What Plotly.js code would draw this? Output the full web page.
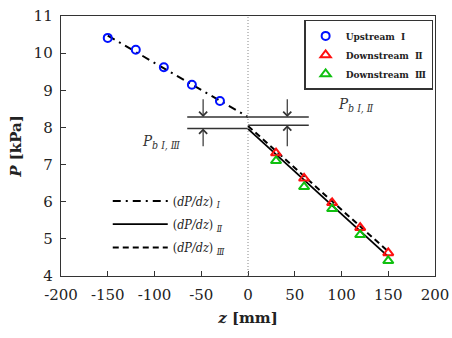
<!DOCTYPE html>
<html><head><meta charset="utf-8">
<script src="https://cdn.plot.ly/plotly-3.0.1.min.js"></script>
<style>body{margin:0;background:#fff}#c{width:452px;height:338px}</style>
</head><body><div id="c"></div>
<script>
// ---- data ----
const zUp = [-150, -120, -90, -60, -30];
const pUp = [10.41, 10.09, 9.62, 9.15, 8.71];
const zDown = [30, 60, 90, 120, 150];
const pDown2 = [7.31, 6.63, 5.97, 5.30, 4.62];
const pDown3 = [7.10, 6.40, 5.81, 5.11, 4.41];
const zFitUp = [-150, 0];
const pFitUp = [10.47, 8.28];
const zFitDown = [0, 150];
const pFit2 = [7.96, 4.52];
const pFit3 = [8.04, 4.66];
const zRefL = [-65, 0];
const zRefR = [0, 65];
const zRefAll = [-65, 65];
const pbUpper = 8.28;
const pbLowerL = 7.97;
const pbLowerR = 8.06;
const zArrowL = -48, zArrowR = 42;
const xTickVals = [-200, -150, -100, -50, 0, 50, 100, 150, 200];
const xTickText = ['-200', '-150', '-100', '-50', '0', '50', '100', '150', '200'];
const yTickVals = [4, 5, 6, 7, 8, 9, 10, 11];
const yTickText = ['4', '5', '6', '7', '8', '9', '10', '11'];
const legendNames = ['Upstream  Ⅰ', 'Downstream  Ⅱ', 'Downstream  Ⅲ'];
const lineNames = ['(<i>dP/dz</i>) <sub><i>Ⅰ</i></sub>', '(<i>dP/dz</i>) <sub><i>Ⅱ</i></sub>', '(<i>dP/dz</i>) <sub><i>Ⅲ</i></sub>'];

const serif = 'DejaVu Serif';
const cond = 'DejaVu Serif Condensed, DejaVu Serif';

const traces = [
  {x: zFitUp, y: pFitUp, mode: 'lines', name: lineNames[0], legend: 'legend2', legendgroup: 'g1',
   line: {color: '#000', width: 2, dash: '8px,5px,2px,5px'}},
  {x: zFitDown, y: pFit2, mode: 'lines', name: lineNames[1], legend: 'legend2', legendgroup: 'g2',
   line: {color: '#000', width: 1.8}},
  {x: zFitDown, y: pFit3, mode: 'lines', name: lineNames[2], legend: 'legend2', legendgroup: 'g3',
   line: {color: '#000', width: 2, dash: '6px,4px'}},
  {x: zRefAll, y: [pbUpper, pbUpper], mode: 'lines', showlegend: false, hoverinfo: 'skip',
   line: {color: '#333', width: 1.5}},
  {x: zRefL, y: [pbLowerL, pbLowerL], mode: 'lines', showlegend: false, hoverinfo: 'skip',
   line: {color: '#333', width: 1.5}},
  {x: zRefR, y: [pbLowerR, pbLowerR], mode: 'lines', showlegend: false, hoverinfo: 'skip',
   line: {color: '#333', width: 1.5}},
  {x: zUp, y: pUp, mode: 'markers', name: legendNames[0],
   marker: {symbol: 'circle-open', color: '#0010ff', size: 8, line: {width: 2}}},
  {x: zDown, y: pDown2, mode: 'markers', name: legendNames[1],
   marker: {symbol: 'triangle-up-open', color: '#ff1010', size: 9, line: {width: 2}}},
  {x: zDown, y: pDown3, mode: 'markers', name: legendNames[2],
   marker: {symbol: 'triangle-up-open', color: '#10c010', size: 9, line: {width: 2}}}
];

function arrow(xz, yFrom, yTo) {
  return {x: xz, y: yTo, ax: xz, ay: yFrom, xref: 'x', yref: 'y', axref: 'x', ayref: 'y',
    showarrow: true, arrowhead: 4, arrowsize: 1.3, arrowwidth: 1.2, arrowcolor: '#333', text: ''};
}

const layout = {
  width: 452, height: 338,
  margin: {l: 61, r: 17, t: 16, b: 62},
  paper_bgcolor: '#fff', plot_bgcolor: '#fff',
  font: {family: serif, color: '#222', size: 15},
  xaxis: {range: [-200, 200], tickmode: 'array', tickvals: xTickVals, ticktext: xTickText,
    ticks: 'inside', ticklen: 5, tickcolor: '#333', ticklabelstandoff: 5,
    showline: true, linecolor: '#333', linewidth: 1.3, mirror: true, zeroline: false, showgrid: false,
    tickfont: {family: serif, size: 15, color: '#222'},
    title: {text: '<b><i>z</i> [mm]</b>', font: {family: serif, size: 15, color: '#222'}, standoff: 9}},
  yaxis: {range: [4, 11], tickmode: 'array', tickvals: yTickVals, ticktext: yTickText,
    ticks: 'inside', ticklen: 5, tickcolor: '#333', ticklabelstandoff: 4,
    showline: true, linecolor: '#333', linewidth: 1.3, mirror: true, zeroline: false, showgrid: false,
    tickfont: {family: serif, size: 15, color: '#222'},
    title: {text: '<b><i>P</i> [kPa]</b>', font: {family: serif, size: 15, color: '#222'}, standoff: 8}},
  legend: {x: 0.995, xanchor: 'right', y: 0.985, yanchor: 'top', bgcolor: '#fff',
    bordercolor: '#333', borderwidth: 1.5, font: {family: cond, size: 10, color: '#222', weight: 'bold'},
    itemwidth: 30, tracegroupgap: 0},
  legend2: {x: 0.125, xanchor: 'left', y: 0.345, yanchor: 'top', bgcolor: 'rgba(0,0,0,0)',
    borderwidth: 0, font: {family: cond, size: 12.5, color: '#222'}, itemwidth: 55,
    traceorder: 'grouped', tracegroupgap: 4},
  shapes: [
    {type: 'line', xref: 'x', yref: 'paper', x0: 0, x1: 0, y0: 0, y1: 1,
     line: {color: '#888', width: 1, dash: '1px,2px'}}
  ],
  annotations: [
    arrow(zArrowL, 8.80, pbUpper), arrow(zArrowL, 7.45, pbLowerL),
    arrow(zArrowR, 8.80, pbUpper), arrow(zArrowR, 7.45, pbLowerR),
    {x: -92, y: 7.61, xref: 'x', yref: 'y', showarrow: false,
     text: '<i>P</i><sub><i>b Ⅰ, Ⅲ</i></sub>', font: {family: cond, size: 15, color: '#333'}},
    {x: 115, y: 8.63, xref: 'x', yref: 'y', showarrow: false,
     text: '<i>P</i><sub><i>b Ⅰ, Ⅱ</i></sub>', font: {family: cond, size: 15, color: '#333'}}
  ]
};

Plotly.newPlot('c', traces, layout, {displayModeBar: false, staticPlot: true});
</script></body></html>
